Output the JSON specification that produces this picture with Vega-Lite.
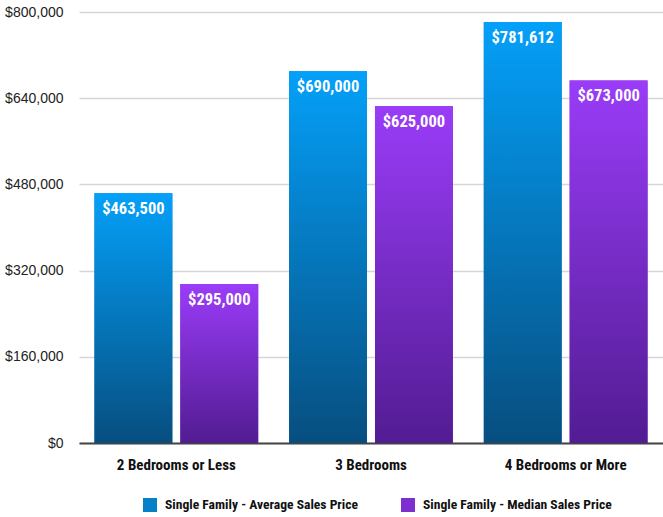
{
  "$schema": "https://vega.github.io/schema/vega-lite/v6.json",
  "width": 584,
  "height": 431,
  "autosize": {"type": "none"},
  "padding": {"left": 79, "top": 12, "right": 0, "bottom": 74},
  "background": "white",
  "config": {"view": {"stroke": null}},
  "data": {
    "values": [
      {"group": "2 Bedrooms or Less", "series": "Single Family - Average Sales Price", "value": 463500},
      {"group": "2 Bedrooms or Less", "series": "Single Family - Median Sales Price", "value": 295000},
      {"group": "3 Bedrooms", "series": "Single Family - Average Sales Price", "value": 690000},
      {"group": "3 Bedrooms", "series": "Single Family - Median Sales Price", "value": 625000},
      {"group": "4 Bedrooms or More", "series": "Single Family - Average Sales Price", "value": 781612},
      {"group": "4 Bedrooms or More", "series": "Single Family - Median Sales Price", "value": 673000}
    ]
  },
  "encoding": {
    "x": {
      "field": "group", "type": "nominal", "sort": null,
      "scale": {"paddingInner": 0, "paddingOuter": 0},
      "axis": {
        "title": null, "labelAngle": 0, "ticks": false,
        "domainColor": "#444", "domainWidth": 2,
        "labelFont": "Roboto Condensed", "labelFontWeight": "bold", "labelFontSize": 15,
        "labelColor": "#111", "labelPadding": 14
      }
    },
    "xOffset": {
      "field": "series", "type": "nominal",
      "scale": {"paddingInner": 0.093, "paddingOuter": 0.18}
    },
    "y": {
      "field": "value", "type": "quantitative",
      "scale": {"domain": [0, 800000], "nice": false},
      "axis": {
        "title": null, "values": [0, 160000, 320000, 480000, 640000, 800000],
        "format": "$,.0f", "domain": false, "ticks": false,
        "gridColor": "#d6d6d6", "gridWidth": 1.5,
        "labelFont": "Liberation Sans", "labelFontSize": 14, "labelColor": "#222",
        "labelPadding": 16
      }
    }
  },
  "layer": [
    {
      "mark": {"type": "bar"},
      "encoding": {
        "fill": {
          "field": "series", "type": "nominal",
          "scale": {
            "domain": ["Single Family - Average Sales Price", "Single Family - Median Sales Price"],
            "range": ["#0680c6", "#7e2fd0"]
          },
          "legend": {
            "title": null, "orient": "none", "direction": "horizontal",
            "legendX": 64, "legendY": 486, "labelLimit": 0,
            "symbolType": "square", "symbolSize": 196, "symbolStrokeWidth": 0,
            "labelFont": "Roboto Condensed", "labelFontWeight": "bold", "labelFontSize": 13.6,
            "labelColor": "#111", "columnPadding": 42, "labelOffset": 8
          }
        }
      }
    },
    {
      "transform": [{"filter": "datum.series === 'Single Family - Average Sales Price'"}],
      "mark": {"type": "bar", "fill": {"gradient": "linear", "x1": 0, "y1": 0, "x2": 0, "y2": 1,
               "stops": [{"offset": 0, "color": "#04a0f9"}, {"offset": 1, "color": "#074e7f"}]}},
      "encoding": {}
    },
    {
      "transform": [{"filter": "datum.series === 'Single Family - Median Sales Price'"}],
      "mark": {"type": "bar", "fill": {"gradient": "linear", "x1": 0, "y1": 0, "x2": 0, "y2": 1,
               "stops": [{"offset": 0, "color": "#9a3cf8"}, {"offset": 1, "color": "#521c92"}]}},
      "encoding": {}
    },
    {
      "mark": {"type": "text", "baseline": "middle", "dy": 16, "color": "white",
               "font": "Roboto Condensed", "fontWeight": "bold", "fontSize": 16.5},
      "encoding": {
        "text": {"field": "value", "type": "quantitative", "format": "$,.0f"}
      }
    }
  ]
}
